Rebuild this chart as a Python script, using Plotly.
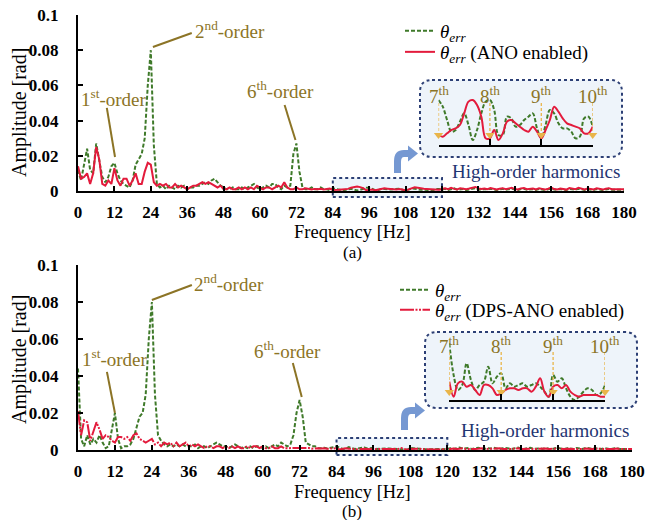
import plotly.graph_objects as go

W, H = 650, 520

# ---------------- data ----------------
freq = list(range(0, 181))  # Hz, 1 Hz resolution

# main spectra, values in mrad
top_green_mrad = [
    12, 6, 15, 24, 12, 10, 27, 18, 8, 5,
    8, 14, 16, 10, 6, 4, 3, 2, 6, 15,
    18, 21, 30, 60, 80, 26, 4, 2, 3, 1,
    3, 2, 1, 3, 2, 3, 1, 2, 2, 3,
    3, 4, 5, 4, 6, 7, 5, 3, 2, 1,
    1, 2, 1, 1, 2, 1, 2, 3, 4, 2,
    1, 2, 3, 2, 4, 4, 2, 1, 3, 2,
    3, 21, 27, 11, 2, 1, 1, 2, 1, 1,
    2, 1, 1, 0.5, 1.5, 1.2, 0.8, 0.5, 0.6, 1.0,
    1.3, 0.8, 0.3, 0.7, 1.3, 1.8, 1.9, 1.4, 0.5, 0.5,
    1.2, 1.1, 0.8, 0.9, 1.0, 1.2, 1.3, 0.7, 0.3, 0.8,
    1.4, 1.3, 0.9, 0.7, 0.7, 0.6, 0.3, 0.4, 1.1, 1.2,
    0.8, 1.2, 0.6, 1.0, 1.5, 0.7, 0.9, 1.2, 0.5, 0.8,
    1.4, 1.6, 0.9, 0.6, 1.1, 0.8, 1.3, 0.7, 0.5, 1.0,
    1.2, 0.6, 0.9, 1.4, 0.8, 0.5, 1.1, 1.3, 0.7, 0.9,
    1.0, 0.6, 1.2, 0.8, 0.5, 1.0, 1.3, 0.8, 0.6, 1.1,
    0.9, 0.5, 1.2, 1.0, 0.7, 1.3, 0.8, 0.6, 1.0, 0.9,
    0.6, 1.1, 0.8, 0.5, 0.9, 1.2, 0.7, 0.6, 0.9, 0.8, 0.7,
]
top_red_mrad = [
    14, 7, 8, 10, 4, 10, 25, 18, 4, 3,
    6, 4, 13, 6, 3, 7, 7, 3, 6, 10,
    4, 4, 11, 16, 15, 5, 3, 4, 3, 4,
    2, 2, 4, 2, 3, 2, 1, 2, 3, 3,
    4, 5, 4, 5, 4, 3, 2, 3, 1, 1,
    2, 1, 1, 2, 1, 2, 1, 2, 1, 3,
    2, 1, 2, 2, 1, 2, 3, 2, 5, 2,
    1, 1, 2, 1, 1, 1.5, 1, 0.8, 1.2, 1,
    1.3, 0.9, 1.1, 1.4, 0.6, 0.5, 0.7, 0.9, 1.0, 1.2,
    1.9, 2.4, 2.6, 2.2, 1.6, 0.5, 0.5, 0.9, 0.4, 0.8,
    1.4, 1.5, 1.3, 1.1, 0.9, 0.8, 1.1, 0.8, 0.4, 0.9,
    1.5, 2.1, 1.9, 1.5, 1.3, 1.2, 1.1, 1.0, 0.7, 0.7,
    1.1, 1.5, 1.0, 1.8, 1.2, 0.9, 1.6, 1.3, 1.0, 1.4,
    2.0, 2.3, 1.5, 1.1, 1.4, 1.0, 1.7, 1.2, 0.9, 1.3,
    1.6, 1.0, 1.2, 1.8, 1.1, 0.9, 1.5, 1.7, 1.0, 1.2,
    1.4, 0.9, 1.6, 1.2, 0.8, 1.3, 1.9, 1.1, 0.9, 1.4,
    1.2, 0.8, 1.7, 1.3, 1.0, 1.8, 1.2, 0.9, 1.4, 1.1,
    0.9, 1.5, 1.2, 0.8, 1.3, 1.6, 1.0, 0.9, 1.2, 1.1, 1.0,
]
bottom_green_mrad = [
    44, 6, 2, 8, 3, 6, 4, 8, 4, 1,
    2, 12, 20, 6, 1, 2, 2, 3, 6, 12,
    18, 20, 30, 60, 80, 30, 8, 5, 3, 2,
    3, 2, 3, 2, 3, 2, 2, 2, 3, 1,
    2, 2, 1, 2, 3, 4, 3, 2, 2, 1,
    2, 3, 2, 1, 2, 1, 2, 1, 2, 2,
    1, 2, 1, 2, 3, 2, 4, 3, 2, 3,
    8, 20, 27, 18, 4, 3, 2, 2, 1, 1,
    1.2, 0.8, 1.0, 1.5, 2.0, 1.2, 0.6, 0.8, 1.6, 1.0,
    0.6, 0.8, 0.9, 1.4, 0.8, 1.1, 1.2, 0.6, 0.8, 0.7,
    0.8, 0.8, 0.7, 0.8, 0.8, 0.7, 0.4, 0.2, 1.1, 0.9,
    1.0, 0.6, 0.2, 0.1, 0.2, 0.4, 0.6, 0.5, 0.3, 0.4,
    0.7, 1.0, 0.6, 0.9, 1.3, 0.7, 0.8, 1.1, 0.5, 0.7,
    1.2, 0.9, 0.6, 1.0, 0.8, 1.2, 0.7, 0.5, 0.9, 1.1,
    0.8, 0.6, 1.0, 1.3, 0.7, 0.5, 1.0, 1.2, 0.6, 0.8,
    0.9, 0.6, 1.1, 0.7, 0.5, 0.9, 1.2, 0.7, 0.6, 1.0,
    0.8, 0.5, 1.1, 0.9, 0.6, 1.2, 0.7, 0.6, 0.9, 0.8,
    0.6, 1.0, 0.7, 0.5, 0.8, 1.1, 0.6, 0.6, 0.8, 0.7, 0.6,
]
bottom_red_mrad = [
    21, 8, 16, 15, 5, 10, 15, 11, 6, 8,
    7, 5, 4, 7, 7, 6, 7, 5, 8, 9,
    6, 5, 4, 5, 6, 3, 4, 2, 4, 3,
    4, 2, 4, 2, 3, 4, 2, 3, 2, 3,
    2, 1, 2, 2, 1, 2, 2, 1, 2, 1,
    2, 1, 2, 1, 1, 2, 1, 2, 2, 1,
    2, 1, 1, 2, 1, 1, 2, 1, 1, 1,
    1, 1, 1.2, 0.8, 1, 1.1, 0.7, 0.9, 1, 0.8,
    1.0, 0.7, 0.9, 0.8, 0.9, 0.3, 0.8, 0.9, 0.7, 0.8,
    0.5, 0.3, 0.7, 0.7, 0.6, 0.3, 0.4, 0.5, 0.6, 0.6,
    0.5, 0.6, 0.6, 0.4, 0.6, 1.0, 0.4, 0.2, 0.6, 0.7,
    0.6, 0.7, 0.4, 0.3, 0.2, 0.3, 0.3, 0.3, 0.3, 0.2,
    0.3, 0.6, 0.8, 0.5, 0.7, 0.9, 0.6, 0.5, 0.8, 0.6,
    0.7, 0.9, 0.5, 0.6, 0.8, 0.5, 0.7, 0.9, 0.6, 0.5,
    0.8, 0.6, 0.7, 0.9, 0.5, 0.6, 0.8, 0.7, 0.5, 0.6,
    0.7, 0.5, 0.8, 0.6, 0.5, 0.7, 0.9, 0.6, 0.5, 0.7,
    0.6, 0.5, 0.8, 0.7, 0.5, 0.8, 0.6, 0.5, 0.7, 0.6,
    0.5, 0.7, 0.6, 0.5, 0.6, 0.8, 0.5, 0.5, 0.6, 0.5, 0.5,
]

# magnified high-order region (84-120 Hz), values in mrad
inset_freq = list(range(84, 121))
top_inset_green_mrad = [
    2.7, 2.3, 1.5, 0.8, 0.9, 1.4, 1.9, 1.2, 0.3, 0.9,
    1.9, 2.6, 2.7, 2.1, 0.6, 0.6, 1.7, 1.6, 1.1, 1.2,
    1.5, 1.7, 1.9, 1.0, 0.4, 1.2, 2.1, 1.9, 1.3, 1.0,
    1.0, 0.8, 0.4, 0.5, 1.6, 1.7, 1.1,
]
top_inset_red_mrad = [
    0.6, 0.5, 0.7, 0.9, 1.0, 1.2, 1.9, 2.6, 2.7, 2.4,
    1.7, 0.4, 0.4, 0.9, 0.3, 0.7, 1.4, 1.5, 1.3, 1.1,
    0.9, 0.8, 1.1, 0.8, 0.4, 0.9, 1.5, 2.3, 2.0, 1.6,
    1.3, 1.2, 1.1, 1.0, 0.7, 0.7, 1.1,
]
bottom_inset_green_mrad = [
    3.4, 1.5, 0.6, 0.9, 2.2, 1.2, 0.6, 0.9, 1.1, 2.0,
    1.0, 1.4, 1.6, 0.7, 1.0, 0.8, 0.9, 1.0, 0.8, 0.9,
    1.0, 0.8, 0.5, 0.2, 1.5, 1.1, 1.3, 0.7, 0.2, 0.0,
    0.2, 0.5, 0.7, 0.6, 0.3, 0.4, 0.9,
]
bottom_inset_red_mrad = [
    1.1, 0.2, 1.0, 1.1, 0.8, 0.9, 0.6, 0.3, 0.9, 0.9,
    0.7, 0.3, 0.4, 0.6, 0.7, 0.7, 0.6, 0.7, 0.7, 0.5,
    0.8, 1.3, 0.5, 0.2, 0.8, 0.9, 0.7, 0.9, 0.5, 0.3,
    0.2, 0.3, 0.3, 0.3, 0.3, 0.2, 0.2,
]

harmonic_freqs = [84, 96, 108, 120]
harmonic_labels = ["7<sup>th</sup>", "8<sup>th</sup>", "9<sup>th</sup>", "10<sup>th</sup>"]
x_ticks = list(range(0, 181, 12))
y_ticks = [0, 0.02, 0.04, 0.06, 0.08, 0.1]
y_ticktext = ["0", "0.02", "0.04", "0.06", "0.08", "0.1"]

# order annotations: text centre [Hz, rad] and leader line ends per panel
order_labels = ["1<sup>st</sup>-order", "2<sup>nd</sup>-order", "6<sup>th</sup>-order"]
top_label_pos = [(11.8, 0.0528), (50.0, 0.0915), (66.8, 0.0574)]
top_leaders = [((9.5, 0.0472), (12.2, 0.0193)), ((37.5, 0.0898), (24.7, 0.0818)), ((68.1, 0.0489), (71.7, 0.029))]
bot_label_pos = [(11.7, 0.0497), (49.0, 0.0903), (68.2, 0.0540)]
bot_leaders = [((9.4, 0.0422), (12.0, 0.0200)), ((37.0, 0.0892), (24.0, 0.0811)), ((69.8, 0.0470), (72.7, 0.0286))]

def to_rad(vals):
    return [v / 1000 for v in vals]

# ---------------- styling ----------------
SERIF = "Liberation Serif"
GREEN = "#3f7a2a"
RED = "#e31b3c"
OLIVE = "#8c7426"
NAVY = "#1f3572"
GOLD = "#e9b54a"

def px(x):
    return x / W

def py(y):
    return 1 - y / H

fig = go.Figure()

theta = "<i>θ<sub>err</sub></i>"

fig.add_trace(go.Scatter(x=freq, y=to_rad(top_green_mrad), mode="lines", name=theta,
                         line=dict(color=GREEN, width=2, dash="4px,2px"),
                         xaxis="x", yaxis="y", legend="legend"))
fig.add_trace(go.Scatter(x=freq, y=to_rad(top_red_mrad), mode="lines", name=theta + " (ANO enabled)",
                         line=dict(color=RED, width=2),
                         xaxis="x", yaxis="y", legend="legend2"))
fig.add_trace(go.Scatter(x=freq, y=to_rad(bottom_green_mrad), mode="lines", name=theta,
                         line=dict(color=GREEN, width=2, dash="4px,2px"),
                         xaxis="x2", yaxis="y2", legend="legend3"))
fig.add_trace(go.Scatter(x=freq, y=to_rad(bottom_red_mrad), mode="lines", name=theta + " (DPS-ANO enabled)",
                         line=dict(color=RED, width=2, dash="14px,1.5px,2px,1.5px,2px,1.5px"),
                         xaxis="x2", yaxis="y2", legend="legend4"))

# insets
for xa, ya, g, r in [("x3", "y3", top_inset_green_mrad, top_inset_red_mrad),
                     ("x4", "y4", bottom_inset_green_mrad, bottom_inset_red_mrad)]:
    fig.add_trace(go.Scatter(x=inset_freq, y=to_rad(g), mode="lines", showlegend=False,
                             line=dict(color=GREEN, width=2, dash="4px,2px", shape="spline"),
                             xaxis=xa, yaxis=ya, hoverinfo="skip"))
    fig.add_trace(go.Scatter(x=inset_freq, y=to_rad(r), mode="lines", showlegend=False,
                             line=dict(color=RED, width=2, shape="spline"),
                             xaxis=xa, yaxis=ya, hoverinfo="skip"))

shapes = []
annotations = []

# harmonic markers inside insets
inset_geo = [("x3", "y3", 103, 137, 95, 0.0006), ("x4", "y4", 352, 392, 345, 0.00048)]
for xa, ya, ytop, ybot, ylab, tri_y in inset_geo:
    for f, lab in zip(harmonic_freqs, harmonic_labels):
        shapes.append(dict(type="line", xref=xa, yref="paper", x0=f, x1=f, y0=py(ytop), y1=py(ybot),
                           line=dict(color=GOLD, width=1.3, dash="3px,2px"), layer="above"))
        annotations.append(dict(x=f, y=py(ylab), xref=xa, yref="paper", text=lab, showarrow=False,
                                font=dict(family=SERIF, size=19, color=OLIVE),
                                xanchor="center", yanchor="middle"))
    fig.add_trace(go.Scatter(x=harmonic_freqs, y=[tri_y] * len(harmonic_freqs), mode="markers",
                             marker=dict(symbol="triangle-down", size=8, color=GOLD),
                             showlegend=False, xaxis=xa, yaxis=ya, hoverinfo="skip", cliponaxis=False))

# order labels and leader lines
for xa, ya, pos, leaders in [("x", "y", top_label_pos, top_leaders), ("x2", "y2", bot_label_pos, bot_leaders)]:
    for lab, (lx, ly), ((x0, y0), (x1, y1)) in zip(order_labels, pos, leaders):
        annotations.append(dict(x=lx, y=ly, xref=xa, yref=ya, text=lab, showarrow=False,
                                font=dict(family=SERIF, size=19, color=OLIVE),
                                xanchor="center", yanchor="middle"))
        shapes.append(dict(type="line", xref=xa, yref=ya, x0=x0, y0=y0, x1=x1, y1=y1,
                           line=dict(color=OLIVE, width=2), layer="above"))

def rounded_box(x0, y0, x1, y1, r):
    p = (f"M {px(x0 + r)},{py(y0)} L {px(x1 - r)},{py(y0)} Q {px(x1)},{py(y0)} {px(x1)},{py(y0 + r)} "
         f"L {px(x1)},{py(y1 - r)} Q {px(x1)},{py(y1)} {px(x1 - r)},{py(y1)} "
         f"L {px(x0 + r)},{py(y1)} Q {px(x0)},{py(y1)} {px(x0)},{py(y1 - r)} "
         f"L {px(x0)},{py(y0 + r)} Q {px(x0)},{py(y0)} {px(x0 + r)},{py(y0)} Z")
    return p

def bent_arrow(dx, dy):
    pts = [("M", 394, 173), ("L", 394, 161), ("Q", 394, 150, 404, 150), ("L", 408, 150), ("L", 408, 145.5),
           ("L", 418, 153.5), ("L", 408, 161.5), ("L", 408, 157), ("L", 404, 157),
           ("Q", 401, 157, 401, 162), ("L", 401, 173)]
    s = ""
    for p in pts:
        if p[0] == "Q":
            s += f"Q {px(p[1] + dx)},{py(p[2] + dy)} {px(p[3] + dx)},{py(p[4] + dy)} "
        else:
            s += f"{p[0]} {px(p[1] + dx)},{py(p[2] + dy)} "
    return s + "Z"

# inset frames
for (x0, y0, x1, y1) in [(420, 80, 622, 157), (425, 332, 637, 408)]:
    shapes.append(dict(type="path", xref="paper", yref="paper", path=rounded_box(x0, y0, x1, y1, 12),
                       fillcolor="#eef4fa", line=dict(color="#2c3f75", width=2, dash="dot"), layer="below"))

# zoom region boxes on main axes
for xa, y0, y1 in [("x", 178, 197), ("x2", 438, 455)]:
    shapes.append(dict(type="rect", xref=xa, yref="paper", x0=84, x1=120, y0=py(y1), y1=py(y0),
                       fillcolor="rgba(225,236,248,0.6)", line=dict(color="#2c3f75", width=2, dash="dot"),
                       layer="below"))

# bent arrows
for dx, dy in [(0, 0), (7, 257)]:
    shapes.append(dict(type="path", xref="paper", yref="paper", path=bent_arrow(dx, dy),
                       fillcolor="#7598d2", line=dict(width=0), layer="above"))

# high-order harmonics captions
for cx, cy in [(536, 172), (545, 430)]:
    annotations.append(dict(x=px(cx), y=py(cy), xref="paper", yref="paper", text="High-order harmonics",
                            showarrow=False, font=dict(family=SERIF, size=19, color=NAVY),
                            xanchor="center", yanchor="middle"))

# axis titles and panel labels
for cy, lab, fs in [(232, "Frequency [Hz]", 18.5), (252, "(a)", 17),
                    (492, "Frequency [Hz]", 18.5), (511.5, "(b)", 17)]:
    annotations.append(dict(x=px(352), y=py(cy), xref="paper", yref="paper", text=lab, showarrow=False,
                            font=dict(family=SERIF, size=fs, color="black"),
                            xanchor="center", yanchor="middle"))
for cy in [113, 360]:
    annotations.append(dict(x=px(19), y=py(cy), xref="paper", yref="paper", text="Amplitude [rad]",
                            showarrow=False, textangle=-90,
                            font=dict(family=SERIF, size=20, color="black"),
                            xanchor="center", yanchor="middle"))

tickfont = dict(family=SERIF, size=17, color="black", weight="bold")

def main_x(domain, anchor):
    return dict(domain=domain, anchor=anchor, range=[0, 180], tickvals=x_ticks, ticks="inside", ticklen=5,
                tickwidth=1.5, tickcolor="black", showline=True, linewidth=2, linecolor="black",
                showgrid=False, zeroline=False, tickfont=tickfont, ticklabelstandoff=5, automargin=False)

def main_y(domain, anchor):
    return dict(domain=domain, anchor=anchor, range=[0, 0.1], tickvals=y_ticks, ticktext=y_ticktext,
                ticks="inside", ticklen=5, tickwidth=1.5, tickcolor="black", showline=True, linewidth=2,
                linecolor="black", showgrid=False, zeroline=False, tickfont=tickfont, ticklabelstandoff=14,
                automargin=False)

def inset_x(domain, anchor):
    return dict(domain=domain, anchor=anchor, range=[84, 120], tickvals=harmonic_freqs, ticks="inside",
                ticklen=6, tickwidth=2, tickcolor="black", showline=True, linewidth=2, linecolor="black",
                showticklabels=False, showgrid=False, zeroline=False, automargin=False)

legend_font = dict(family=SERIF, size=19, color="black")

def legend_at(xpix, ypix):
    return dict(x=px(xpix), y=py(ypix), xanchor="left", yanchor="top", bgcolor="rgba(0,0,0,0)",
                font=legend_font, borderwidth=0)

fig.update_layout(
    template="none",
    width=W, height=H,
    margin=dict(l=0, r=0, t=0, b=0, autoexpand=False),
    paper_bgcolor="white", plot_bgcolor="rgba(0,0,0,0)",
    showlegend=True,
    xaxis=main_x([px(78), px(624)], "y"),
    yaxis=main_y([py(191), py(15)], "x"),
    xaxis2=main_x([px(78), px(632)], "y2"),
    yaxis2=main_y([py(450), py(265)], "x2"),
    xaxis3=inset_x([px(438.5), px(592.7)], "y3"),
    yaxis3=dict(domain=[py(145), py(95)], anchor="x3", range=[0, 0.003], visible=False, automargin=False),
    xaxis4=inset_x([px(449.3), px(605)], "y4"),
    yaxis4=dict(domain=[py(400), py(340)], anchor="x4", range=[0, 0.0036], visible=False, automargin=False),
    legend=legend_at(400, 12),
    legend2=legend_at(400, 33),
    legend3=legend_at(395, 271),
    legend4=legend_at(395, 291),
    shapes=shapes,
    annotations=annotations,
)

fig.write_html("out.html")
